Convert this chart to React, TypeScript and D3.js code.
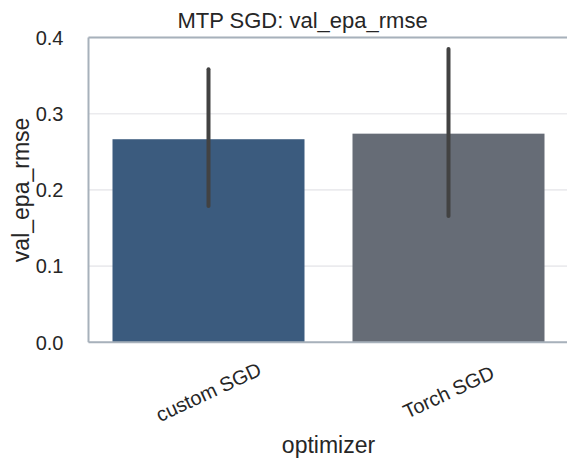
import React from "react";
import * as d3 from "d3";

const categories = ["custom SGD", "Torch SGD"];
const means = [0.2665, 0.2738];
const ciLow = [0.1789, 0.1658];
const ciHigh = [0.3583, 0.385];
const barColors = ["#3b5b7e", "#666c76"];
const yTicks = [0.0, 0.1, 0.2, 0.3, 0.4];

const W = 567;
const H = 461;
const margin = { left: 88.5, right: 568.5, top: 37.5, bottom: 342.3 };
const FONT = "'Liberation Sans', Arial, Helvetica, sans-serif";
const TEXT = "#262626";

export default function App() {
  const x = d3
    .scaleBand<string>()
    .domain(categories)
    .range([margin.left, margin.right])
    .paddingInner(0.2)
    .paddingOuter(0.1);
  const y = d3.scaleLinear().domain([0, 0.4]).range([margin.bottom, margin.top]);

  const spine = "#a7b1bb";

  return (
    <svg
      width={W}
      height={H}
      style={{ position: "absolute", left: 0, top: 0, background: "#fff" }}
    >
      {/* horizontal grid */}
      {yTicks.map((t) => (
        <line
          key={t}
          x1={margin.left}
          x2={margin.right}
          y1={y(t)}
          y2={y(t)}
          stroke="#ebebee"
          strokeWidth={1.6}
        />
      ))}
      {/* bars */}
      {categories.map((c, i) => (
        <rect
          key={c}
          x={x(c)}
          width={x.bandwidth()}
          y={y(means[i])}
          height={y(0) - y(means[i])}
          fill={barColors[i]}
        />
      ))}
      {/* confidence intervals */}
      {categories.map((c, i) => (
        <line
          key={c}
          x1={(x(c) ?? 0) + x.bandwidth() / 2}
          x2={(x(c) ?? 0) + x.bandwidth() / 2}
          y1={y(ciLow[i])}
          y2={y(ciHigh[i])}
          stroke="#424242"
          strokeWidth={4}
          strokeLinecap="round"
        />
      ))}
      {/* spines */}
      <line x1={margin.left} x2={margin.left} y1={margin.top} y2={margin.bottom} stroke={spine} strokeWidth={2} />
      <line x1={margin.left} x2={margin.right} y1={margin.top} y2={margin.top} stroke={spine} strokeWidth={2} />
      <line x1={margin.left} x2={margin.right} y1={margin.bottom} y2={margin.bottom} stroke={spine} strokeWidth={2} />
      <line x1={margin.right} x2={margin.right} y1={margin.top} y2={margin.bottom} stroke={spine} strokeWidth={2} />
      {/* y tick labels */}
      {yTicks.map((t) => (
        <text
          key={t}
          x={63.5}
          y={y(t)}
          dy="0.36em"
          textAnchor="end"
          fontFamily={FONT}
          fontSize={20}
          fill={TEXT}
        >
          {d3.format(".1f")(t)}
        </text>
      ))}
      {/* x tick labels */}
      {categories.map((c) => {
        const cx = (x(c) ?? 0) + x.bandwidth() / 2;
        const cy = 392;
        return (
          <text
            key={c}
            x={cx}
            y={cy}
            dy="0.35em"
            textAnchor="middle"
            transform={`rotate(-25, ${cx}, ${cy})`}
            fontFamily={FONT}
            fontSize={20}
            fill={TEXT}
          >
            {c}
          </text>
        );
      })}
      {/* axis labels */}
      <text
        x={(margin.left + margin.right) / 2}
        y={453}
        textAnchor="middle"
        fontFamily={FONT}
        fontSize={23}
        fill={TEXT}
      >
        optimizer
      </text>
      <text
        transform={`translate(29, ${(margin.top + margin.bottom) / 2}) rotate(-90)`}
        textAnchor="middle"
        fontFamily={FONT}
        fontSize={23}
        fill={TEXT}
      >
        val_epa_rmse
      </text>
      {/* title */}
      <text x={302.5} y={28} textAnchor="middle" fontFamily={FONT} fontSize={22} fill={TEXT}>
        MTP SGD: val_epa_rmse
      </text>
    </svg>
  );
}
